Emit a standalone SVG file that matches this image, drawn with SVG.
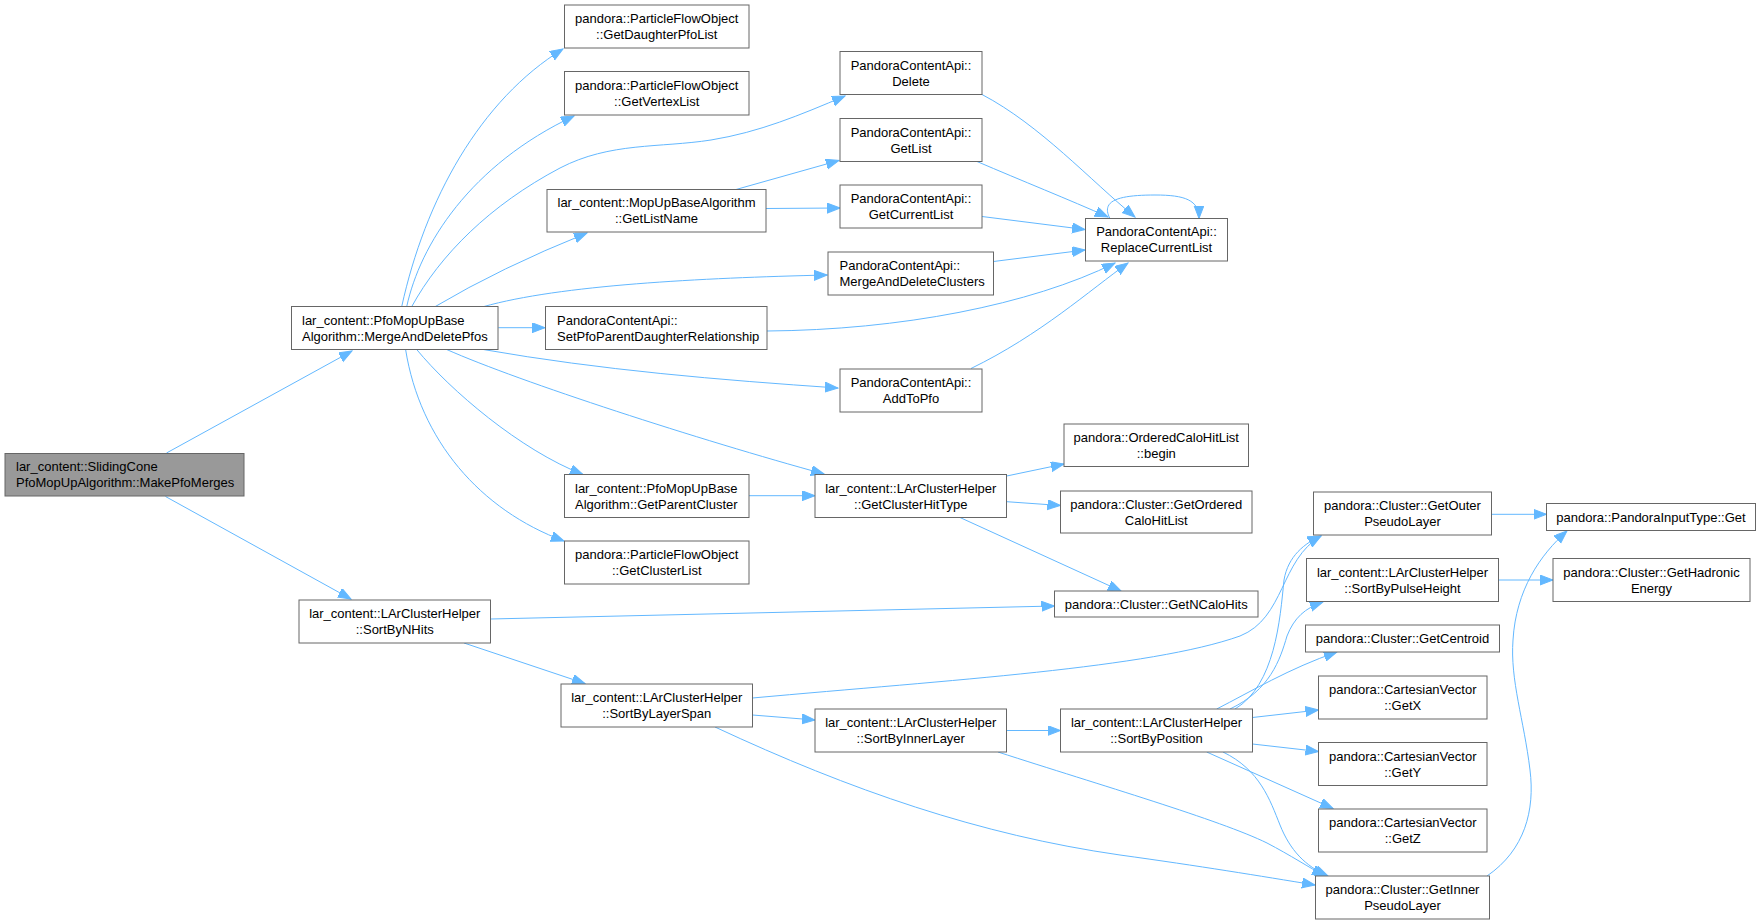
<svg xmlns="http://www.w3.org/2000/svg" width="1761" height="924" viewBox="0 0 1761 924">
<defs>
<style>
rect{fill:#ffffff;stroke:#666666;stroke-width:1}
rect.root{fill:#999999}
text{font-family:"Liberation Sans",Arial,sans-serif;font-size:13px;fill:#000000}
text.c{text-anchor:middle}
#edges path{fill:none;stroke:#63b8ff;stroke-width:1;marker-end:url(#arr)}
</style>
<marker id="arr" markerUnits="userSpaceOnUse" markerWidth="14" markerHeight="11" refX="13" refY="5" orient="auto">
<path d="M0,0 L13,5 L0,10 z" fill="#63b8ff" stroke="#63b8ff" stroke-width="1"/>
</marker>
</defs>
<rect x="0" y="0" width="1761" height="924" style="fill:#ffffff;stroke:none"/>
<g id="edges">
<path d="M166.5,453 L352,351"/>
<path d="M165.5,496.5 L351,599"/>
<path d="M401.7,306.7 C425,200 480,100 563,49"/>
<path d="M406.7,306.7 C420,245 470,165 574,116"/>
<path d="M411.7,306.7 C440,255 490,205 560,168 C610,142 660,148 711,140 C760,132 800,115 845,96"/>
<path d="M435,306.7 Q500,268 587,233"/>
<path d="M483.3,306.7 C560,285 700,278 827,275"/>
<path d="M498.3,327.7 L545,327.7"/>
<path d="M483.3,349.5 C600,370 720,380 838,388"/>
<path d="M446.7,349.5 C520,382 700,440 824,474"/>
<path d="M416.7,349.5 C450,390 520,450 583,474.5"/>
<path d="M405.6,349.5 C420,440 480,510 564,541"/>
<path d="M736,189.5 L839,160.5"/>
<path d="M766,208.5 L840,208"/>
<path d="M982,94.5 C1040,125 1090,180 1135,217"/>
<path d="M977,161.5 C1020,180 1070,200 1108,217"/>
<path d="M982,216.5 L1085,229.5"/>
<path d="M993.5,261.5 L1085,250"/>
<path d="M767,331 C900,330 1030,305 1115,263"/>
<path d="M971,368.5 C1040,335 1090,290 1128,263"/>
<path d="M1110,218.5 C1100,200 1120,195 1155,195 C1185,195 1199,200 1199,218.5"/>
<path d="M749,495.7 L815,495.7"/>
<path d="M1006.7,476 L1064,464"/>
<path d="M1006.7,501.7 L1060.5,505.5"/>
<path d="M960,517.5 L1121,591"/>
<path d="M490.6,619 L1054.5,606"/>
<path d="M464,643 L585,683.5"/>
<path d="M752.5,698 C950,680 1150,668 1240,636 C1285,618 1280,560 1321,536"/>
<path d="M752.5,715 L815,720"/>
<path d="M715,727 C850,790 980,835 1120,855 C1200,866 1260,876 1315,885"/>
<path d="M1006.5,730.5 L1060.5,730.5"/>
<path d="M998,752 C1100,785 1220,820 1267,843 C1290,855 1310,868 1325,876"/>
<path d="M1235,709 C1275,685 1280,620 1284,580 C1288,556 1305,543 1321,536"/>
<path d="M1230,709 C1270,690 1280,660 1287,636 C1294,618 1305,608 1323,602"/>
<path d="M1216.7,709 C1250,692 1290,668 1337,652"/>
<path d="M1252.5,717.5 L1318.5,710"/>
<path d="M1252.5,744 L1318.5,751.5"/>
<path d="M1206.7,752 L1333,808.5"/>
<path d="M1223,752 C1260,770 1270,800 1280,825 C1290,850 1305,866 1328,876"/>
<path d="M1491.5,514.3 L1546.5,514.3"/>
<path d="M1498.5,580 L1553,580"/>
<path d="M1487,876 C1525,850 1535,810 1530,770 C1524,720 1510,680 1513,640 C1516,590 1540,555 1567,531"/>
</g>
<g id="n_root"><rect class="root" x="5" y="453.5" width="239" height="42.5"/><text x="16" y="471.3">lar_content::SlidingCone</text><text x="16" y="487.3">PfoMopUpAlgorithm::MakePfoMerges</text></g>
<g id="n_mergeanddeletepfos"><rect x="291.5" y="306.5" width="206.5" height="43"/><text x="302" y="324.5">lar_content::PfoMopUpBase</text><text x="302" y="340.5">Algorithm::MergeAndDeletePfos</text></g>
<g id="n_sortbynhits"><rect x="299" y="600" width="191.5" height="43"/><text class="c" x="394.75" y="618">lar_content::LArClusterHelper</text><text class="c" x="394.75" y="634">::SortByNHits</text></g>
<g id="n_getdaughterpfolist"><rect x="564.5" y="5" width="184.5" height="43"/><text class="c" x="656.75" y="23">pandora::ParticleFlowObject</text><text class="c" x="656.75" y="39">::GetDaughterPfoList</text></g>
<g id="n_getvertexlist"><rect x="564.5" y="71.5" width="184.5" height="43.5"/><text class="c" x="656.75" y="89.8">pandora::ParticleFlowObject</text><text class="c" x="656.75" y="105.8">::GetVertexList</text></g>
<g id="n_getlistname"><rect x="547" y="189.5" width="219" height="42.5"/><text class="c" x="656.5" y="207.3">lar_content::MopUpBaseAlgorithm</text><text class="c" x="656.5" y="223.3">::GetListName</text></g>
<g id="n_setpfoparent"><rect x="545.5" y="306.5" width="221.5" height="43"/><text x="557" y="324.5">PandoraContentApi::</text><text x="557" y="340.5">SetPfoParentDaughterRelationship</text></g>
<g id="n_getparentcluster"><rect x="564.5" y="474.5" width="184.5" height="43"/><text x="575" y="492.5">lar_content::PfoMopUpBase</text><text x="575" y="508.5">Algorithm::GetParentCluster</text></g>
<g id="n_getclusterlist"><rect x="564.5" y="541" width="184.5" height="43"/><text class="c" x="656.75" y="559">pandora::ParticleFlowObject</text><text class="c" x="656.75" y="575">::GetClusterList</text></g>
<g id="n_sortbylayerspan"><rect x="561" y="684" width="191.5" height="43"/><text class="c" x="656.75" y="702">lar_content::LArClusterHelper</text><text class="c" x="656.75" y="718">::SortByLayerSpan</text></g>
<g id="n_delete"><rect x="840" y="51.5" width="142" height="43"/><text class="c" x="911" y="69.5">PandoraContentApi::</text><text class="c" x="911" y="85.5">Delete</text></g>
<g id="n_getlist"><rect x="840" y="118.5" width="142" height="43"/><text class="c" x="911" y="136.5">PandoraContentApi::</text><text class="c" x="911" y="152.5">GetList</text></g>
<g id="n_getcurrentlist"><rect x="840" y="185" width="142" height="43"/><text class="c" x="911" y="203">PandoraContentApi::</text><text class="c" x="911" y="219">GetCurrentList</text></g>
<g id="n_mergeanddeleteclusters"><rect x="828" y="252" width="165.5" height="43"/><text x="839.5" y="270">PandoraContentApi::</text><text x="839.5" y="286">MergeAndDeleteClusters</text></g>
<g id="n_addtopfo"><rect x="840" y="369" width="142" height="43"/><text class="c" x="911" y="387">PandoraContentApi::</text><text class="c" x="911" y="403">AddToPfo</text></g>
<g id="n_getclusterhittype"><rect x="815" y="474.5" width="191.5" height="43"/><text class="c" x="910.75" y="492.5">lar_content::LArClusterHelper</text><text class="c" x="910.75" y="508.5">::GetClusterHitType</text></g>
<g id="n_sortbyinnerlayer"><rect x="815" y="709" width="191.5" height="43"/><text class="c" x="910.75" y="727">lar_content::LArClusterHelper</text><text class="c" x="910.75" y="743">::SortByInnerLayer</text></g>
<g id="n_replacecurrentlist"><rect x="1085.5" y="218.5" width="142" height="42.5"/><text class="c" x="1156.5" y="236.3">PandoraContentApi::</text><text class="c" x="1156.5" y="252.3">ReplaceCurrentList</text></g>
<g id="n_begin"><rect x="1064" y="424" width="184.5" height="42.5"/><text class="c" x="1156.25" y="441.8">pandora::OrderedCaloHitList</text><text class="c" x="1156.25" y="457.8">::begin</text></g>
<g id="n_getorderedcalohitlist"><rect x="1060.5" y="491" width="191.5" height="42"/><text class="c" x="1156.25" y="508.5">pandora::Cluster::GetOrdered</text><text class="c" x="1156.25" y="524.5">CaloHitList</text></g>
<g id="n_getncalohits"><rect x="1054.5" y="591" width="203.5" height="26"/><text class="c" x="1156.25" y="608.5">pandora::Cluster::GetNCaloHits</text></g>
<g id="n_sortbyposition"><rect x="1060.5" y="709" width="192" height="43"/><text class="c" x="1156.5" y="727">lar_content::LArClusterHelper</text><text class="c" x="1156.5" y="743">::SortByPosition</text></g>
<g id="n_getouterpseudolayer"><rect x="1313.5" y="492" width="178" height="43"/><text class="c" x="1402.5" y="510">pandora::Cluster::GetOuter</text><text class="c" x="1402.5" y="526">PseudoLayer</text></g>
<g id="n_sortbypulseheight"><rect x="1306.5" y="558.5" width="192" height="43"/><text class="c" x="1402.5" y="576.5">lar_content::LArClusterHelper</text><text class="c" x="1402.5" y="592.5">::SortByPulseHeight</text></g>
<g id="n_getcentroid"><rect x="1305.5" y="625" width="194" height="27"/><text class="c" x="1402.5" y="643">pandora::Cluster::GetCentroid</text></g>
<g id="n_getx"><rect x="1318.5" y="676" width="168.5" height="43"/><text class="c" x="1402.75" y="694">pandora::CartesianVector</text><text class="c" x="1402.75" y="710">::GetX</text></g>
<g id="n_gety"><rect x="1318.5" y="742.5" width="168.5" height="43"/><text class="c" x="1402.75" y="760.5">pandora::CartesianVector</text><text class="c" x="1402.75" y="776.5">::GetY</text></g>
<g id="n_getz"><rect x="1318.5" y="809" width="168.5" height="43"/><text class="c" x="1402.75" y="827">pandora::CartesianVector</text><text class="c" x="1402.75" y="843">::GetZ</text></g>
<g id="n_getinnerpseudolayer"><rect x="1315.5" y="876" width="174" height="43"/><text class="c" x="1402.5" y="894">pandora::Cluster::GetInner</text><text class="c" x="1402.5" y="910">PseudoLayer</text></g>
<g id="n_pandorainputtypeget"><rect x="1546.5" y="503.5" width="209" height="27"/><text class="c" x="1651" y="521.5">pandora::PandoraInputType::Get</text></g>
<g id="n_gethadronicenergy"><rect x="1553" y="558.5" width="197" height="43"/><text class="c" x="1651.5" y="576.5">pandora::Cluster::GetHadronic</text><text class="c" x="1651.5" y="592.5">Energy</text></g>
</svg>
